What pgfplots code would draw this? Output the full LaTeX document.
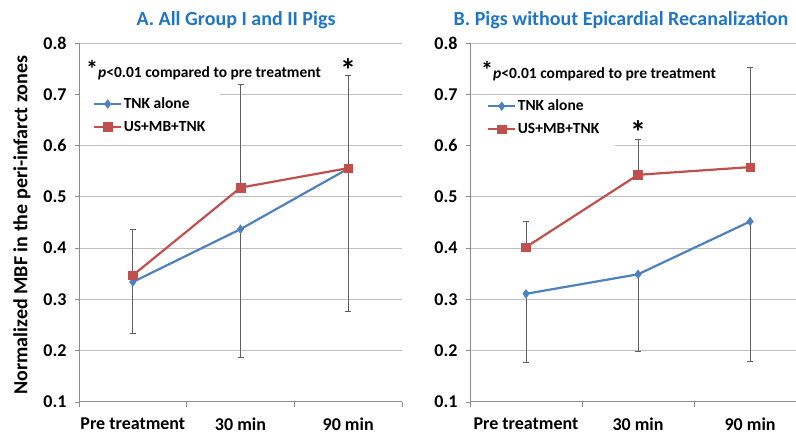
\documentclass[border=0pt]{standalone}
\usepackage{fontspec}
\setmainfont{Carlito}
\usepackage{pgfplots}
\pgfplotsset{compat=1.18}
\definecolor{tblue}{RGB}{79,129,189}
\definecolor{tred}{RGB}{192,80,77}
\definecolor{ttl}{RGB}{32,118,196}
\definecolor{gridc}{RGB}{192,192,192}
\definecolor{axc}{RGB}{140,140,140}
\definecolor{errc}{RGB}{95,95,95}

\pgfplotsset{
  panel/.style={
    scale only axis, height=359pt,
    xmin=-0.5, ymin=0.1, ymax=0.8,
    axis lines*=left, axis line style={axc, line width=1pt},
    xtick={0,1,2}, xticklabels={Pre treatment,30 min,90 min},
    minor xtick={-0.5,0.5,1.5,2.5},
    major x tick style={draw=none},
    minor x tick style={axc, line width=0.8pt},
    minor tick length=5pt,
    ytick={0.1,0.2,0.3,0.4,0.5,0.6,0.7,0.8},
    yticklabels={0.1,0.2,0.3,0.4,0.5,0.6,0.7,0.8},
    major y tick style={axc, line width=0.8pt},
    major tick length=4pt, tick align=outside,
    ymajorgrids, grid style={gridc, line width=1pt},
    ticklabel style={font=\fontsize{18}{20}\selectfont\bfseries},
    yticklabel style={xshift=-5pt},
    xticklabel style={yshift=-8pt},
    legend style={draw=none, fill=none, anchor=north west,
      font=\fontsize{15.5}{18}\selectfont\bfseries, row sep=8pt, inner sep=0pt,
      nodes={inner sep=1.5pt}},
    legend cell align=left,
    legend image code/.code={\draw[mark repeat=2,mark phase=2,##1] plot coordinates {(0pt,0pt) (13.5pt,0pt) (27pt,0pt)};},
    clip=false,
  },
  tnk/.style={tblue, line width=2.2pt, mark=diamond*, mark size=4.3pt,
    mark options={solid, fill=tblue, draw=tblue, line width=0.5pt},
    error bars/.cd, y dir=minus, y explicit, error mark=|,
    error bar style={errc, line width=0.8pt},
    error mark options={errc, mark size=3pt, line width=0.8pt}},
  usmb/.style={tred, line width=2.2pt, mark=square*, mark size=4.3pt,
    mark options={solid, fill=tred, draw=tred, line width=0.5pt},
    error bars/.cd, y dir=plus, y explicit, error mark=|,
    error bar style={errc, line width=0.8pt},
    error mark options={errc, mark size=3pt, line width=0.8pt}},
}

\begin{document}
\begin{tikzpicture}[x=1pt,y=1pt]
\useasboundingbox (0,0) rectangle (796,445);

% Panel A
\begin{axis}[panel, width=323pt, xmax=2.5, at={(79pt,43pt)}, anchor=south west,
  legend style={at={(0.043,0.852)}}]
  \fill[white] (axis cs:-0.49,0.615) rectangle (axis cs:0.81,0.715);
  \addplot[tnk] table[x=x, y=y, y error=e] {
    x y e
    0 0.334 0.101
    1 0.437 0.250
    2 0.555 0.279
  };
  \addlegendentry{TNK alone}
  \addplot[usmb] table[x=x, y=y, y error=e] {
    x y e
    0 0.347 0.090
    1 0.518 0.201
    2 0.556 0.181
  };
  \addlegendentry{US+MB+TNK}
  \node at (axis cs:2,0.748) {\fontsize{32}{32}\selectfont\bfseries *};
\end{axis}

% Panel B
\begin{axis}[panel, width=326pt, xmax=2.41, at={(470pt,43pt)}, anchor=south west,
  legend style={at={(0.052,0.846)}}]
  \fill[white] (axis cs:-0.49,0.59) rectangle (axis cs:0.795,0.695);
  \addplot[tnk] table[x=x, y=y, y error=e] {
    x y e
    0 0.311 0.134
    1 0.349 0.151
    2 0.452 0.272
  };
  \addlegendentry{TNK alone}
  \addplot[usmb] table[x=x, y=y, y error=e] {
    x y e
    0 0.402 0.050
    1 0.543 0.069
    2 0.558 0.194
  };
  \addlegendentry{US+MB+TNK}
  \node at (axis cs:1,0.626) {\fontsize{32}{32}\selectfont\bfseries *};
\end{axis}

% Titles, label, notes
\node[text=ttl, font=\fontsize{20}{24}\selectfont\bfseries] at (236,425) {A. All Group I and II Pigs};
\node[text=ttl, font=\fontsize{20}{24}\selectfont\bfseries] at (621,425) {B. Pigs without Epicardial Recanalization};
\node[rotate=90, font=\fontsize{20}{24}\selectfont\bfseries] at (22,220) {Normalized MBF in the peri-infarct zones};
\node[anchor=west, inner sep=0pt, font=\fontsize{15.5}{18}\selectfont\bfseries] at (86,375) {{\fontsize{24}{24}\selectfont *}\textit{p}<0.01 compared to pre treatment};
\node[anchor=west, inner sep=0pt, font=\fontsize{15.5}{18}\selectfont\bfseries] at (481,374) {{\fontsize{24}{24}\selectfont *}\textit{p}<0.01 compared to pre treatment};
\end{tikzpicture}
\end{document}
